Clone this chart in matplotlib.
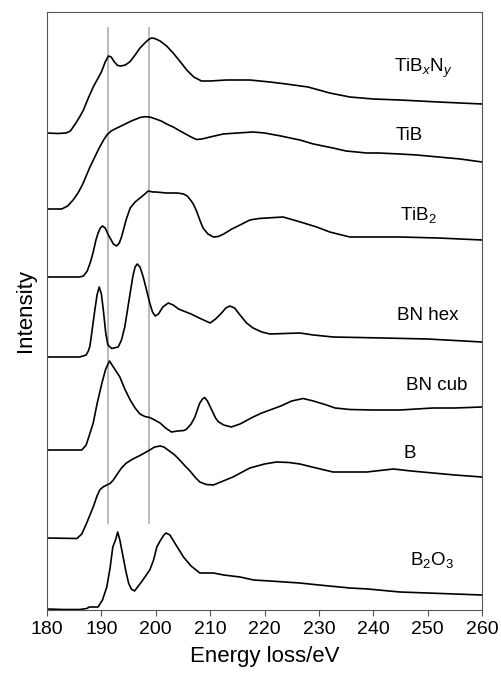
import matplotlib
matplotlib.use("Agg")
import matplotlib.pyplot as plt

# ── Spectra (energy loss in eV, intensity in arbitrary stacked units) ──
# values read as pixel rows from the top, converted to height above the axis
TOP = 610

tibn_e = [180, 182, 183.5, 184.3, 185.2, 186, 186.7, 187.6, 188.5, 189.3, 190, 190.7,
          191.3, 191.8, 192.4, 193, 193.6, 194.4, 195.3, 196.2, 197.1, 198, 198.7, 199.2,
          199.8, 200.8, 202, 203.2, 204.4, 205.7, 207, 208.4, 210, 213, 217.3, 221, 224,
          228, 232, 235.7, 240, 244.9, 252, 256, 260]
tibn_i = [TOP - p for p in
          [133, 133.5, 133, 131, 124, 117, 110, 98, 87, 79, 72, 62,
           56, 57, 62, 65.5, 66, 65, 61.5, 55, 48, 43, 39.5, 38,
           38.5, 41, 46, 53, 61, 70, 77, 81, 81, 80, 80, 82, 84,
           87, 93, 97, 99, 100, 102, 103, 104]]

tib_e = [180, 182.7, 183.8, 184.8, 185.7, 186.5, 187.9, 189.5, 190.3, 191, 191.8, 192.5,
         194, 195.5, 197.1, 198, 198.9, 200, 201, 202, 203.2, 204.5, 205.5, 206.5, 207.5,
         208.5, 210, 212.4, 215, 217.9, 220, 221, 223, 226.5, 229, 232.6, 235, 238.8, 241,
         244.9, 248, 252, 256, 260]
tib_i = [TOP - p for p in
         [209, 209, 206, 200, 193, 185, 167, 149, 141, 135, 131, 129,
          125, 121, 117.5, 116.7, 117, 119, 121, 124, 127, 131, 134, 137, 139.5,
          139, 137, 134, 133, 132, 133, 134, 136, 140, 144, 148, 151, 153, 153,
          154, 155, 157, 159, 162]]

tib2_e = [180, 184, 186, 186.7, 187.4, 188, 188.5, 189, 189.4, 189.8, 190.2, 190.7, 191.2,
          191.6, 192.2, 192.8, 193.3, 193.7, 194, 194.6, 195.3, 196.2, 197.1, 198, 198.6,
          199.5, 200, 202, 204, 205.1, 205.8, 206.4, 206.9, 207.5, 208.1, 208.7, 209.6,
          210.6, 211.5, 212.5, 214, 215.5, 217.3, 219, 220.4, 223.4, 226, 229.6, 232,
          235.7, 240, 244.9, 252, 260]
tib2_i = [TOP - p for p in
          [277, 277, 277, 276, 271, 262, 252, 240, 233, 228, 226, 228, 234,
           238, 244, 246, 243, 237, 231, 219, 208, 202, 198, 194, 191,
           192, 192, 193, 193, 194, 196, 200, 204, 211, 220, 228, 234,
           237, 236.5, 234, 229, 225, 220, 218.5, 218, 217, 221, 227, 232,
           237, 237, 237, 238, 240]]

bnhex_e = [180, 186, 187.2, 187.6, 187.9, 188.3, 188.8, 189.2, 189.6, 190, 190.4, 190.8,
           191.2, 191.9, 193.1, 193.7, 194.3, 194.8, 195.3, 195.8, 196.2, 196.6, 197.1,
           197.7, 198.3, 198.9, 199.4, 199.9, 200.5, 201.3, 202.3, 203.2, 204.2, 205.1,
           206.5, 208, 210, 211, 212.1, 212.9, 213.6, 214.5, 215.5, 216.7, 217.9, 219.5,
           221, 226.5, 229, 232.6, 241.8, 250, 260]
bnhex_i = [TOP - p for p in
           [357, 357, 355, 351, 346, 330, 310, 295, 287, 294, 312, 333,
            345, 348.5, 347, 340, 327, 310, 293, 276, 267, 264, 267,
            277, 290, 303, 312, 316, 314, 307, 303, 305, 309, 311,
            314, 318, 323, 319, 313, 308, 306, 308, 315, 323, 328, 332,
            334, 333, 335, 337, 338, 339, 342]]

bncub_e = [180, 186.4, 187.2, 187.8, 188.5, 189.2, 190.1, 190.8, 191.5, 192.2, 193.4,
           194.3, 195.3, 196.2, 197.1, 198, 198.9, 199.8, 200.8, 201.8, 202.9, 204, 205.2,
           205.7, 206.5, 207.2, 207.7, 208.1, 208.6, 209, 209.5, 210.3, 211, 211.5, 212.5,
           213.9, 215.5, 217.9, 219.5, 221, 223, 225, 227.1, 229, 231.4, 233, 235.7, 240,
           244.9, 251, 255, 260]
bncub_i = [TOP - p for p in
           [450, 450, 445, 435, 423, 404, 383, 369, 361, 367, 377,
            389, 400, 408, 414, 416.5, 417.5, 420, 423, 428, 432, 431, 430.5,
            429, 424, 417, 409, 403, 399, 397.5, 401, 410, 418, 421.7, 425,
            427, 424, 417, 413, 410, 406, 401, 398.5, 401, 405, 408, 409.5, 410,
            410, 408, 408, 407]]

b_e = [180, 185.5, 186.4, 187.3, 188.5, 189.2, 189.7, 190.3, 191, 191.6, 192.2, 192.8,
       193.7, 194.6, 195.8, 197.1, 198.9, 199.8, 200.8, 201.5, 202.5, 203.5, 204.4, 205.4,
       206.3, 207.2, 208.1, 209.3, 210.6, 212.4, 214.2, 217.3, 220, 222.2, 224.5, 226.5,
       229.5, 232.6, 235.5, 238.8, 243.7, 247, 251, 255, 260]
b_i = [TOP - p for p in
       [538, 538.5, 534, 523, 507, 496, 490, 487, 485, 483.5, 480, 475,
        468, 463, 459, 455.5, 450, 447, 446, 447, 451, 455, 460, 466,
        471, 477, 482, 484.5, 485, 481, 477, 468, 464, 462, 462.5, 464,
        468, 472, 472, 472, 469, 471, 473, 475, 477]]

b2o3_e = [180, 183, 186, 187.3, 187.8, 188.3, 189.4, 190.2, 191, 191.6, 192.1, 192.6,
          193, 193.4, 194, 194.5, 195, 195.5, 196.1, 197.5, 198.9, 199.6, 200.2, 200.9,
          201.5, 201.9, 202.6, 203.5, 204.3, 205.1, 206.5, 208.1, 210.6, 212.5, 215.5,
          218, 221, 226.5, 230, 235.7, 239, 244.9, 250, 255, 260]
b2o3_i = [TOP - p for p in
          [609, 609.5, 609.5, 608.5, 607, 607, 607, 600, 587, 568, 547, 540,
           532, 540, 557, 571, 583, 589, 591, 581, 570, 560, 547, 540,
           535, 533, 535, 543, 550, 557, 566, 573, 573, 575, 577,
           580, 581, 583, 585, 588, 589, 592, 593, 594, 595]]

spectra = [
    (tibn_e, tibn_i, r"TiB$_x$N$_y$", 423, TOP - 68),
    (tib_e, tib_i, "TiB", 409, TOP - 136),
    (tib2_e, tib2_i, r"TiB$_2$", 418, TOP - 215),
    (bnhex_e, bnhex_i, "BN hex", 428, TOP - 315),
    (bncub_e, bncub_i, "BN cub", 437, TOP - 385),
    (b_e, b_i, "B", 410, TOP - 453),
    (b2o3_e, b2o3_i, r"B$_2$O$_3$", 432, TOP - 560),
]

marker_lines = [191.2, 198.7]
marker_lo, marker_hi = TOP - 523, TOP - 28

# ── Style ──────────────────────────────────────────────────────────
plt.rcParams.update({
    "font.family": "Liberation Sans",
    "mathtext.fontset": "custom",
    "mathtext.rm": "Liberation Sans",
    "mathtext.it": "Liberation Sans:italic",
    "axes.edgecolor": "#555555",
    "axes.linewidth": 0.8,
})

fig = plt.figure(figsize=(5.01, 6.80), dpi=100)
ax = fig.add_axes([47 / 501, (680 - TOP) / 680, 435 / 501, 598 / 680])

for x0 in marker_lines:
    ax.plot([x0, x0], [marker_lo, marker_hi], color="#b4b4b4", lw=1.3, zorder=1)

for e, i, label, lx, ly in spectra:
    ax.plot(e, i, color="black", lw=1.2, zorder=2, solid_joinstyle="round")
    # label x given in pixels, converted to eV
    ax.text(180 + (lx - 47) / 435 * 80, ly, label, ha="center", va="center",
            fontsize=13.5, color="black")

ax.set_xlim(180, 260)
ax.set_ylim(0, 598)
ax.set_xticks(range(180, 261, 10))
ax.set_yticks([])
ax.tick_params(axis="x", direction="out", length=4, width=0.8, labelsize=14,
               color="#555555", pad=4)
ax.set_xlabel("Energy loss/eV", fontsize=16, labelpad=6)
ax.set_ylabel("Intensity", fontsize=16, labelpad=8)

fig.savefig("out.png", dpi=100)
